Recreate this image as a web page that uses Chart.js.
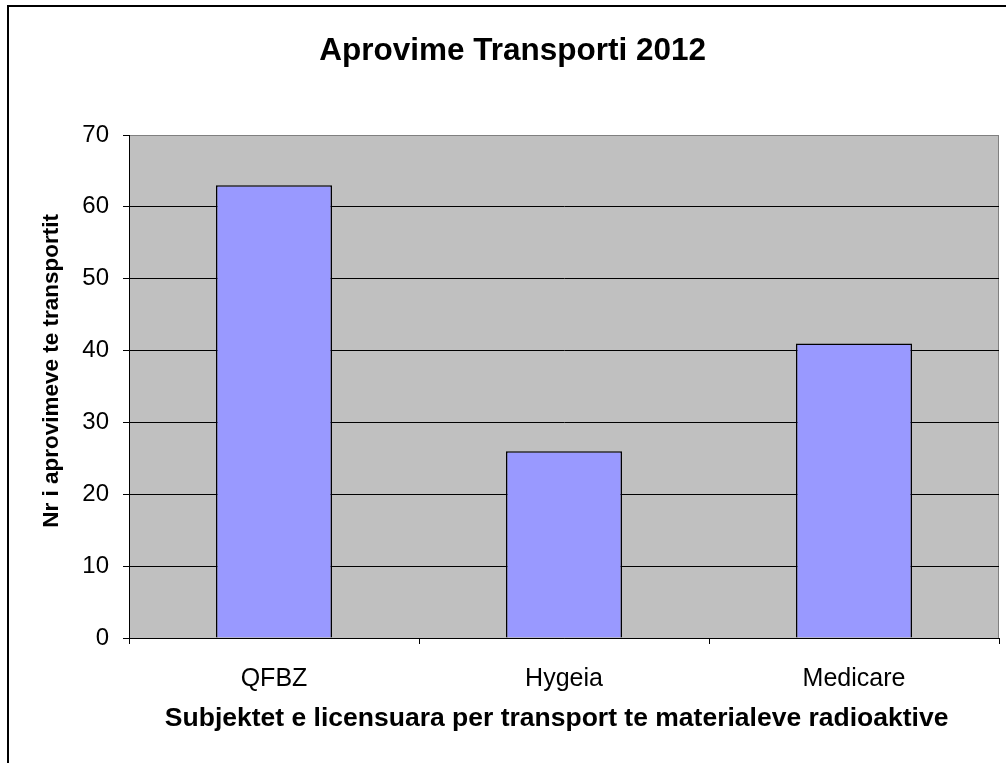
<!DOCTYPE html>
<html>
<head>
<meta charset="utf-8">
<script src="https://cdn.jsdelivr.net/npm/chart.js@4"></script>
<style>
  body { margin: 0; background: #fff; }
  canvas { display: block; }
</style>
</head>
<body>
<canvas id="bar-chart" width="1006" height="763"></canvas>
<script>
var categories = ['QFBZ', 'Hygeia', 'Medicare'];
var approvals = [63, 26, 41];
var yTicks = [0, 10, 20, 30, 40, 50, 60, 70];

var FONT = "'Liberation Sans', Arial, sans-serif";

// white page, gray plot area and the outer frame
var framePlugin = {
     id: 'frame',
     beforeDraw: function (chart) {
          var ctx = chart.ctx;
          var a = chart.chartArea;
          ctx.save();
          ctx.fillStyle = '#ffffff';
          ctx.fillRect(0, 0, chart.width, chart.height);
          ctx.fillStyle = '#c0c0c0';
          ctx.fillRect(a.left, a.top, a.right - a.left, a.bottom - a.top);
          ctx.strokeStyle = '#808080';
          ctx.lineWidth = 1;
          ctx.beginPath();
          ctx.moveTo(a.left, a.top + 0.5);
          ctx.lineTo(a.right - 0.5, a.top + 0.5);
          ctx.lineTo(a.right - 0.5, a.bottom);
          ctx.stroke();
          ctx.restore();
     },
     afterDraw: function (chart) {
          var ctx = chart.ctx;
          ctx.save();
          ctx.strokeStyle = '#000000';
          ctx.lineWidth = 2;
          ctx.strokeRect(8, 6, chart.width + 20, chart.height + 20);
          ctx.restore();
     }
};

var chart = new Chart(document.getElementById('bar-chart'), {
     type: 'bar',
     data: {
          labels: categories,
          datasets: [{
               data: approvals,
               backgroundColor: '#9999ff',
               borderColor: '#000000',
               borderWidth: 1.5,
               barPercentage: 0.4,
               categoryPercentage: 1.0
          }]
     },
     plugins: [framePlugin],
     options: {
          responsive: false,
          animation: false,
          layout: { padding: { left: 0, right: 7, top: 0, bottom: 0 } },
          plugins: {
               legend: { display: false },
               tooltip: { enabled: false },
               title: {
                    display: true,
                    text: '   Aprovime Transporti 2012',
                    color: '#000',
                    font: { family: FONT, size: 31.5, weight: 'bold' },
                    padding: { top: 32, bottom: 65.2 }
               }
          },
          scales: {
               x: {
                    grid: {
                         display: true,
                         offset: true,
                         drawOnChartArea: false,
                         color: '#000',
                         tickLength: 6
                    },
                    border: { color: '#000', width: 1 },
                    ticks: {
                         color: '#000',
                         padding: 20,
                         font: { family: FONT, size: 25 }
                    },
                    title: {
                         display: true,
                         text: 'Subjektet e licensuara per transport te materialeve radioaktive  ',
                         color: '#000',
                         font: { family: FONT, size: 26.5, weight: 'bold' },
                         padding: { top: 0, bottom: 28 }
                    },
                    afterFit: function (scale) { scale.height = 125; }
               },
               y: {
                    min: 0,
                    max: 70,
                    afterBuildTicks: function (scale) {
                         scale.ticks = yTicks.map(function (v) { return { value: v }; });
                    },
                    grid: {
                         color: function (c) { return c.tick && c.tick.value === 70 ? '#808080' : '#000'; },
                         tickLength: 6,
                         tickColor: '#000'
                    },
                    border: { color: '#000', width: 1 },
                    ticks: {
                         color: '#000',
                         padding: 14,
                         font: { family: FONT, size: 24 }
                    },
                    title: {
                         display: true,
                         text: '     Nr i aprovimeve te transportit',
                         color: '#000',
                         font: { family: FONT, size: 22.5, weight: 'bold' },
                         padding: { top: 38, bottom: 0 }
                    },
                    afterFit: function (scale) { scale.width = 129; }
               }
          }
     }
});
</script>
</body>
</html>
